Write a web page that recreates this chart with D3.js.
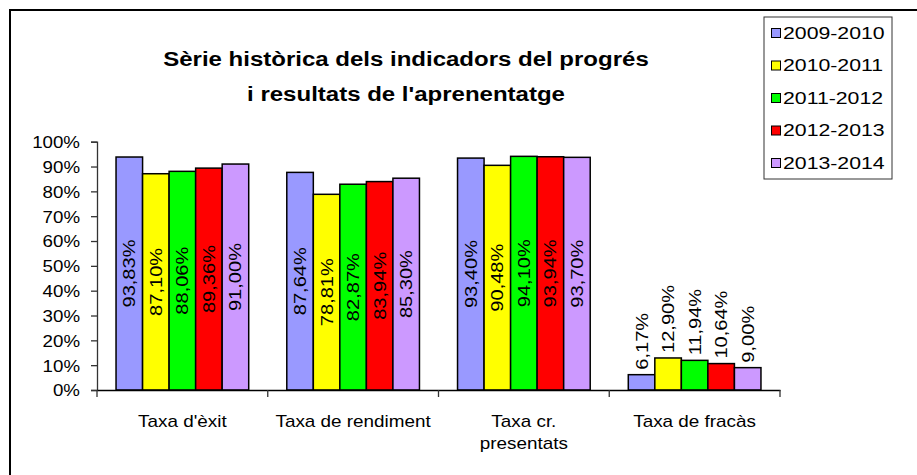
<!DOCTYPE html>
<html>
<head>
<meta charset="utf-8">
<script src="https://cdn.jsdelivr.net/npm/d3@7"></script>
<style>
  html, body { margin: 0; padding: 0; background: #fff; }
  svg text { font-family: "Liberation Sans", Arial, sans-serif; fill: #000; }
</style>
</head>
<body>
<svg id="chart" width="917" height="475"></svg>
<script>
const titleLines = ["Sèrie històrica dels indicadors del progrés", "i resultats de l'aprenentatge"];
const categories = ["Taxa d'èxit", "Taxa de rendiment", "Taxa cr. presentats", "Taxa de fracàs"];
const seriesNames = ["2009-2010", "2010-2011", "2011-2012", "2012-2013", "2013-2014"];
const seriesColors = ["#9999FF", "#FFFF00", "#00FF00", "#FF0000", "#CC99FF"];
const s2009 = [93.83, 87.64, 93.40, 6.17];
const s2010 = [87.10, 78.81, 90.48, 12.90];
const s2011 = [88.06, 82.87, 94.10, 11.94];
const s2012 = [89.36, 83.94, 93.94, 10.64];
const s2013 = [91.00, 85.30, 93.70, 9.00];
const seriesValues = [s2009, s2010, s2011, s2012, s2013];
const yTicks = [0, 10, 20, 30, 40, 50, 60, 70, 80, 90, 100];

const svg = d3.select("#chart");

// outer frame (only top & left visible)
svg.append("rect").attr("x", 10).attr("y", 10).attr("width", 1000).attr("height", 1000)
  .attr("fill", "none").attr("stroke", "#000").attr("stroke-width", 2);

const plotLeft = 97, plotRight = 780, plotTop = 141.7, plotBottom = 390;
const x0 = d3.scaleBand().domain(categories).range([plotLeft, plotRight]).padding(0);
const bw = x0.bandwidth();
const gap = bw * 0.223;
const x1 = d3.scaleBand().domain(seriesNames).range([gap / 2, bw - gap / 2]).padding(0);
const y = d3.scaleLinear().domain([0, 100]).range([plotBottom, plotTop]);

function stretch(sel, f) {
  sel.each(function() {
    const len = this.getComputedTextLength();
    d3.select(this).attr("textLength", len * f).attr("lengthAdjust", "spacingAndGlyphs");
  });
}

// title
const title = svg.append("g");
titleLines.forEach((t, i) => {
  const tx = title.append("text").attr("x", 406).attr("y", 66 + i * 35)
    .attr("text-anchor", "middle").attr("font-size", 20).attr("font-weight", "bold").text(t);
  stretch(tx, 1.2);
});

// y axis
const yAxis = d3.axisLeft(y).tickValues(yTicks).tickSize(6).tickFormat(d => d + "%");
const gy = svg.append("g").attr("transform", `translate(${plotLeft},0)`).call(yAxis);
gy.select(".domain").attr("stroke", "#333").attr("stroke-width", 1.3);
gy.selectAll(".tick line").attr("stroke", "#333").attr("stroke-width", 1.3);
gy.selectAll(".tick text").attr("font-size", 17).attr("font-family", "Liberation Sans, Arial, sans-serif")
  .attr("fill", "#000").attr("x", -17).attr("dy", "0.35em");
stretch(gy.selectAll(".tick text"), 1.1);

// bars
const groups = svg.append("g").selectAll("g.cat").data(categories).join("g")
  .attr("class", "cat").attr("transform", d => `translate(${x0(d)},0)`);

seriesNames.forEach((s, si) => {
  groups.append("rect")
    .attr("x", (d, ci) => x1(s))
    .attr("y", (d, ci) => y(seriesValues[si][ci]))
    .attr("width", x1.bandwidth())
    .attr("height", (d, ci) => plotBottom - y(seriesValues[si][ci]))
    .attr("fill", seriesColors[si])
    .attr("stroke", "#000").attr("stroke-width", 1.5);
});

// x axis
const xAxis = d3.axisBottom(x0).tickSize(0).tickFormat("");
const gx = svg.append("g").attr("transform", `translate(0,${plotBottom})`).call(xAxis);
gx.select(".domain").attr("stroke", "#000").attr("stroke-width", 1.5);
// category boundary ticks
const bounds = categories.map(c => x0(c)).concat([x0(categories[categories.length - 1]) + bw]);
svg.append("g").selectAll("line").data(bounds).join("line")
  .attr("x1", d => d).attr("x2", d => d).attr("y1", plotBottom).attr("y2", plotBottom + 7)
  .attr("stroke", "#333").attr("stroke-width", 1.3);

// category labels (wrapped)
const catLines = {"Taxa cr. presentats": ["Taxa cr.", "presentats"]};
categories.forEach(c => {
  const lines = catLines[c] || [c];
  lines.forEach((l, i) => {
    const t = svg.append("text").attr("x", x0(c) + bw / 2).attr("y", 427 + i * 22)
      .attr("text-anchor", "middle").attr("font-size", 17).text(l);
    stretch(t, 1.11);
  });
});

// bar labels
const fmt = v => v.toFixed(2).replace(".", ",") + "%";
seriesNames.forEach((s, si) => {
  categories.forEach((c, ci) => {
    const v = seriesValues[si][ci];
    const cx = x0(c) + x1(s) + x1.bandwidth() / 2;
    const top = y(v);
    const t = svg.append("text").attr("font-size", 17).text(fmt(v));
    const h = plotBottom - top;
    if (h > 85) {
      t.attr("text-anchor", "middle").attr("dy", "0.35em")
        .attr("transform", `translate(${cx},${(top + plotBottom) / 2}) rotate(-90)`);
    } else {
      t.attr("text-anchor", "start").attr("dy", "0.35em")
        .attr("transform", `translate(${cx},${top - 5}) rotate(-90)`);
    }
    stretch(t, 1.18);
  });
});

// legend
const lg = svg.append("g");
lg.append("rect").attr("x", 764).attr("y", 17).attr("width", 128).attr("height", 162)
  .attr("fill", "#fff").attr("stroke", "#333").attr("stroke-width", 1);
const ly = d3.scalePoint().domain(seriesNames).range([33, 163]);
seriesNames.forEach((s, si) => {
  lg.append("rect").attr("x", 771.5).attr("y", ly(s) - 4.5).attr("width", 9).attr("height", 9)
    .attr("fill", seriesColors[si]).attr("stroke", "#000").attr("stroke-width", 1);
  const t = lg.append("text").attr("x", 783).attr("y", ly(s)).attr("dy", "0.35em")
    .attr("font-size", 17).text(s);
  stretch(t, 1.25);
});
</script>
</body>
</html>
